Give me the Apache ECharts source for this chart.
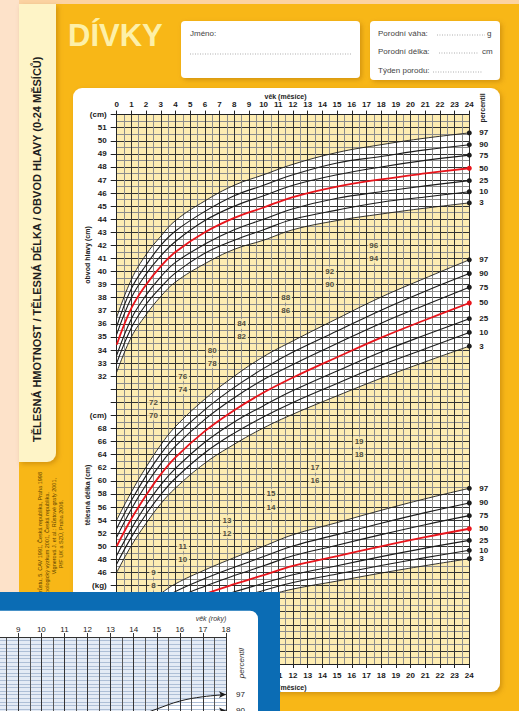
<!DOCTYPE html>
<html><head><meta charset="utf-8">
<script src="https://cdn.jsdelivr.net/npm/echarts@6/dist/echarts.min.js"></script>
<style>html,body{margin:0;padding:0;background:#f8b717;}#c{width:519px;height:711px;}</style>
</head><body><div id="c"></div>
<script>
// ---------- DATA ----------
const ages = [0, 1, 2, 3, 4, 6, 8, 10, 12, 15, 18, 21, 24];           // months
const percentileNames = ['97', '90', '75', '50', '25', '10', '3'];

// head circumference (cm)
const head97 = [36.5, 39.4, 41.3, 42.7, 43.9, 45.4, 46.6, 47.4, 48.2, 49.1, 49.7, 50.2, 50.6];
const head90 = [35.8, 38.7, 40.5, 42.0, 43.1, 44.6, 45.8, 46.6, 47.4, 48.3, 48.8, 49.3, 49.7];
const head75 = [35.2, 38.0, 39.8, 41.2, 42.3, 43.9, 45.0, 45.8, 46.6, 47.4, 48.0, 48.5, 48.9];
const head50 = [34.4, 37.2, 39.0, 40.4, 41.5, 43.0, 44.1, 44.9, 45.7, 46.5, 47.05, 47.5, 47.9];
const head25 = [33.6, 36.4, 38.2, 39.6, 40.7, 42.1, 43.2, 44.0, 44.8, 45.6, 46.1, 46.55, 46.95];
const head10 = [33.0, 35.7, 37.5, 38.8, 39.9, 41.4, 42.4, 43.2, 44.0, 44.7, 45.3, 45.7, 46.1];
const head3  = [32.3, 35.0, 36.7, 38.1, 39.2, 40.6, 41.7, 42.4, 43.2, 43.9, 44.4, 44.85, 45.25];

// body length (cm)
const length97 = [54.0, 58.3, 62.1, 65.5, 68.3, 72.5, 76.0, 79.0, 81.4, 84.8, 88.1, 91.0, 93.8];
const length90 = [52.7, 57.0, 60.8, 64.1, 66.8, 70.9, 74.3, 77.2, 79.7, 82.9, 86.1, 89.0, 91.7];
const length75 = [51.4, 55.7, 59.4, 62.6, 65.3, 69.4, 72.7, 75.5, 77.8, 81.0, 84.1, 86.9, 89.6];
const length50 = [50.0, 54.2, 57.8, 61.0, 63.6, 67.6, 70.8, 73.5, 75.8, 78.9, 81.9, 84.6, 87.2];
const length25 = [48.6, 52.7, 56.3, 59.4, 61.9, 65.9, 69.0, 71.5, 73.8, 76.8, 79.7, 82.3, 84.8];
const length10 = [47.3, 51.4, 54.9, 57.9, 60.4, 64.3, 67.3, 69.8, 72.0, 74.9, 77.7, 80.2, 82.7];
const length3  = [46.0, 50.1, 53.5, 56.5, 58.9, 62.7, 65.6, 68.1, 70.2, 73.0, 75.7, 78.2, 80.6];

// body weight (kg)
const weight97 = [4.13, 5.38, 6.50, 7.38, 8.13, 9.19, 10.13, 11.00, 11.88, 12.81, 13.75, 14.63, 15.43];
const weight90 = [3.83, 4.99, 6.03, 6.84, 7.54, 8.53, 9.40, 10.21, 11.02, 11.89, 12.76, 13.57, 14.31];
const weight75 = [3.57, 4.65, 5.62, 6.38, 7.03, 7.95, 8.76, 9.51, 10.27, 11.08, 11.89, 12.65, 13.34];
const weight50 = [3.30, 4.30, 5.20, 5.90, 6.50, 7.35, 8.10, 8.80, 9.50, 10.25, 11.00, 11.70, 12.34];
const weight25 = [3.06, 3.99, 4.83, 5.48, 6.03, 6.82, 7.52, 8.17, 8.82, 9.51, 10.21, 10.86, 11.45];
const weight10 = [2.86, 3.72, 4.50, 5.11, 5.63, 6.37, 7.02, 7.62, 8.23, 8.88, 9.53, 10.13, 10.69];
const weight3  = [2.69, 3.50, 4.23, 4.80, 5.29, 5.98, 6.59, 7.16, 7.73, 8.34, 8.95, 9.52, 10.05];

// in-grid scale marks
const lengthMarks = [70, 72, 74, 76, 78, 80, 82, 84, 86, 88, 90, 92, 94, 96];
const weightMarks = [8, 9, 10, 11, 12, 13, 14, 15, 16, 17, 18, 19];

// overlapping 2-18 year sheet (height, cm)
const yearAges = [14, 15, 16, 17, 18];
const height97 = [174.6, 177.0, 179.2, 180.4, 181.0];
const height90 = [170.3, 172.6, 174.6, 175.8, 176.5];

// ---------- LAYOUT ----------
const FONT = '"Liberation Sans", Arial, sans-serif';
const lengthMarkAges = [2.5, 4.5, 6.5, 8.5, 11.5, 14.5, 17.5];
const weightMarkAges = [2.5, 4.5, 7.5, 10.5, 13.5, 16.5];
const YEL = '#fdecb2';
const SM = 0.4;

const chart = echarts.init(document.getElementById('c'), null, {renderer: 'svg'});

function pts(d) { return ages.map((a, i) => [a, d[i]]); }
function fill(d, yIdx, color, z) {
  return {type: 'line', xAxisIndex: 0, yAxisIndex: yIdx, data: pts(d), smooth: SM,
    showSymbol: false, symbol: 'none', lineStyle: {width: 0, opacity: 0},
    areaStyle: {color: color, opacity: 1, origin: 'start'}, z: z, silent: true};
}
function curve(d, yIdx, name) {
  const red = name === '50';
  const color = red ? '#e8141b' : '#1c1c1c';
  const last = ages.length - 1;
  return {type: 'line', xAxisIndex: 0, yAxisIndex: yIdx, data: pts(d), smooth: SM,
    symbol: 'circle', showSymbol: true, showAllSymbol: true,
    symbolSize: (v, p) => (p.dataIndex === last ? 5 : 0),
    itemStyle: {color: color},
    lineStyle: {color: color, width: red ? 1.8 : ((name === '97' || name === '3') ? 0.9 : 1.1)},
    endLabel: {show: true, formatter: name, distance: 10, color: '#1a1a1a', fontSize: 8,
      fontWeight: 'bold', fontFamily: FONT},
    z: 9, silent: true};
}

const headSets = [head97, head90, head75, head50, head25, head10, head3];
const lengthSets = [length97, length90, length75, length50, length25, length10, length3];
const weightSets = [weight97, weight90, weight75, weight50, weight25, weight10, weight3];

const series = [
  fill(head97, 0, '#ffffff', 2), fill(head3, 0, YEL, 3),
  fill(length97, 1, '#ffffff', 4), fill(length3, 1, YEL, 5),
  fill(weight97, 2, '#ffffff', 6), fill(weight3, 2, YEL, 7)
];
percentileNames.forEach((n, i) => {
  series.push(curve(headSets[i], 0, n));
  series.push(curve(lengthSets[i], 1, n));
  series.push(curve(weightSets[i], 2, n));
});
const markLabel = {show: true, position: 'inside', formatter: p => String(p.value[1]),
  fontSize: 8, fontWeight: 'bold', fontFamily: FONT, color: '#1a1a1a',
  backgroundColor: YEL, padding: [1, 2]};
series.push({type: 'scatter', xAxisIndex: 0, yAxisIndex: 1, symbolSize: 1,
  itemStyle: {color: 'rgba(0,0,0,0)'}, z: 10, silent: true,
  data: lengthMarks.map((v, i) => [lengthMarkAges[Math.floor(i / 2)], v]), label: markLabel});
series.push({type: 'scatter', xAxisIndex: 0, yAxisIndex: 2, symbolSize: 1,
  itemStyle: {color: 'rgba(0,0,0,0)'}, z: 10, silent: true,
  data: weightMarks.map((v, i) => [weightMarkAges[Math.floor(i / 2)], v]), label: markLabel});

// overlay sheet series
series.push({type: 'line', xAxisIndex: 2, yAxisIndex: 3, data: yearAges.map((a, i) => [a, height97[i]]),
  smooth: SM, showSymbol: false, symbol: 'none', lineStyle: {width: 0, opacity: 0},
  areaStyle: {color: '#ffffff', opacity: 1, origin: 'start'}, z: 23, silent: true});
[[height97, '97'], [height90, '90']].forEach(([d, n]) => {
  series.push({type: 'line', xAxisIndex: 2, yAxisIndex: 3, data: yearAges.map((a, i) => [a, d[i]]),
    smooth: SM, symbol: 'arrow', showSymbol: true, showAllSymbol: true, symbolRotate: -90,
    symbolSize: (v, p) => (p.dataIndex === yearAges.length - 1 ? [5, 7] : 0),
    itemStyle: {color: '#1c1c1c'}, lineStyle: {color: '#1c1c1c', width: 1},
    endLabel: {show: true, formatter: n, distance: 10, color: '#222', fontSize: 8, fontFamily: FONT},
    z: 25, silent: true});
});

const axLbl = {fontSize: 8, fontWeight: 'bold', fontFamily: FONT, color: '#1a1a1a'};
const dark = {color: '#333333', width: 1};
const grey = {color: '#8c8c8c', width: 1};

function txt(x, y, text, o) {
  o = o || {};
  return {type: 'text', x: x, y: y, z: o.z != null ? o.z : 5, rotation: o.rot || 0, silent: true,
    style: {text: text, fill: o.color || '#222', fontSize: o.size || 8, fontWeight: o.weight || 'normal',
      fontStyle: o.fs || 'normal', fontFamily: FONT,
      align: o.align || 'left', verticalAlign: o.va || 'middle',
      textAlign: o.align || 'left', textVerticalAlign: o.va || 'middle'}};
}
function rect(x, y, w, h, fillc, z, r, shadow) {
  const e = {type: 'rect', z: z, silent: true, shape: {x: x, y: y, width: w, height: h, r: r || 0},
    style: {fill: fillc}};
  if (shadow) Object.assign(e.style, {shadowBlur: 5, shadowOffsetX: 2, shadowOffsetY: 2, shadowColor: 'rgba(140,80,0,0.35)'});
  return e;
}
function dots(x1, x2, y, z) {
  return {type: 'line', z: z || 5, silent: true, shape: {x1: x1, y1: y, x2: x2, y2: y},
    style: {stroke: '#9a9a9a', lineWidth: 0.9, lineDash: [0.9, 1.6]}};
}

const graphics = [
  rect(0, 0, 519, 4, '#fcd3a2', 0),
  rect(0, 0, 19, 711, '#fde2c9', 0),
  rect(19, 4, 37, 458, '#fef4c7', 0, [0, 0, 9, 0], true),
  rect(73, 88, 427, 604, '#ffffff', 0, 9, true),
  rect(181, 21, 179, 57, '#ffffff', 0, 4, true),
  rect(370, 21, 130, 59, '#ffffff', 0, 4, true),
  txt(68, 35, 'DÍVKY', {size: 31, weight: 'bold', color: '#fdf0a8'}),
  txt(37, 442, 'TĚLESNÁ HMOTNOST / TĚLESNÁ DÉLKA / OBVOD HLAVY (0-24 MĚSÍCŮ)', {rot: Math.PI / 2, size: 11, weight: 'bold', color: '#1e1e1e'}),
  txt(190, 33, 'Jméno:', {size: 8, color: '#444'}),
  dots(190, 352, 54),
  txt(378, 33, 'Porodní váha:', {size: 8, color: '#444'}),
  dots(437, 485, 35), txt(487, 33, 'g', {size: 8, color: '#444'}),
  txt(378, 51, 'Porodní délka:', {size: 8, color: '#444'}),
  dots(439, 479, 53), txt(482, 51, 'cm', {size: 8, color: '#444'}),
  txt(378, 70, 'Týden porodu:', {size: 8, color: '#444'}),
  dots(433, 482, 72),
  txt(285.5, 96, 'věk (měsíce)', {size: 7, weight: 'bold', align: 'center'}),
  txt(285.5, 687, 'věk (měsíce)', {size: 7, weight: 'bold', align: 'center'}),
  txt(482, 108, 'percentil', {rot: Math.PI / 2, size: 7, weight: 'bold', align: 'center'}),
  txt(87, 255, 'obvod hlavy (cm)', {rot: Math.PI / 2, size: 7, weight: 'bold', align: 'center'}),
  txt(87, 495, 'tělesná délka (cm)', {rot: Math.PI / 2, size: 7, weight: 'bold', align: 'center'}),
  txt(40, 472, 'Vignerová J., Bláha P.: Sledování růstu, 5. CAV 1991, Česká republika, Praha 1998', {rot: Math.PI / 2, size: 5.5, color: '#5e4300', align: 'right'}),
  txt(47, 492, '6. celostátní antropologický výzkum 2001, Česká republika.', {rot: Math.PI / 2, size: 5.5, color: '#5e4300', align: 'right'}),
  txt(54, 478, 'Vignerová J. et al.: Růstové grafy 2001,', {rot: Math.PI / 2, size: 5.5, color: '#5e4300', align: 'right'}),
  txt(61, 500, 'PřF UK a SZÚ, Praha 2006.', {rot: Math.PI / 2, size: 5.5, color: '#5e4300', align: 'right'}),
  // overlapping sheet
  rect(0, 592, 280, 119, '#0b6cb4', 20),
  rect(0, 610.7, 258, 110, '#ffffff', 21, [0, 8, 0, 0]),
  txt(211, 618.5, 'věk (roky)', {z: 26, size: 7, fs: 'italic', color: '#333', align: 'center'}),
  txt(241, 663, 'percentil', {z: 26, rot: Math.PI / 2, size: 8, fs: 'italic', color: '#333', align: 'center'})
];

const option = {
  backgroundColor: '#f8b717',
  animation: false,
  grid: [
    {left: 116.7, top: 114.6, width: 352.6, height: 549.4, show: true, backgroundColor: YEL, borderWidth: 0, z: 1,
      outerBoundsMode: 'none', containLabel: false},
    {left: -4.8, top: 637, width: 230.8, height: 349.2, show: true, backgroundColor: '#e4ebf5', borderWidth: 0, z: 22,
      outerBoundsMode: 'none', containLabel: false}
  ],
  xAxis: [
    {type: 'value', gridIndex: 0, position: 'top', min: 0, max: 24, interval: 1, z: 8,
      axisLine: {onZero: false, lineStyle: {color: '#222'}},
      axisTick: {show: true, inside: false, length: 4, lineStyle: {color: '#222'}},
      axisLabel: Object.assign({margin: 6}, axLbl),
      splitLine: {show: true, lineStyle: dark}, minorTick: {show: false, splitNumber: 2},
      minorSplitLine: {show: true, lineStyle: grey}},
    {type: 'value', gridIndex: 0, position: 'bottom', min: 0, max: 24, interval: 1, z: 8,
      axisLine: {onZero: false, lineStyle: {color: '#222'}},
      axisTick: {show: true, length: 4, lineStyle: {color: '#222'}},
      axisLabel: Object.assign({margin: 7}, axLbl), splitLine: {show: false}},
    {type: 'value', gridIndex: 1, position: 'top', min: 8, max: 18, interval: 1, z: 24,
      axisLine: {onZero: false, lineStyle: {color: '#333'}},
      axisTick: {show: true, length: 4, lineStyle: {color: '#333'}},
      axisLabel: {margin: 4, fontSize: 8, fontFamily: FONT, color: '#222', formatter: v => (v >= 9 ? String(v) : '')},
      splitLine: {show: true, lineStyle: {color: '#333', width: 1}}, minorTick: {show: false, splitNumber: 2},
      minorSplitLine: {show: true, lineStyle: {color: '#555', width: 1}}}
  ],
  yAxis: [
    {type: 'value', gridIndex: 0, position: 'left', offset: 0, min: 10, max: 52, interval: 1, z: 8,
      axisLine: {show: true, onZero: false, lineStyle: {color: '#222'}},
      axisTick: {show: true, length: 6, lineStyle: {color: '#222'}},
      axisLabel: Object.assign({margin: 10, formatter: v => (v === 52 ? '(cm)' : (v >= 32 && v <= 51 ? String(v) : ''))}, axLbl),
      splitLine: {show: true, lineStyle: dark}, minorTick: {show: false, splitNumber: 2},
      minorSplitLine: {show: true, lineStyle: grey}},
    {type: 'value', gridIndex: 0, position: 'left', offset: 0, min: 32, max: 116, interval: 2, z: 8,
      axisLine: {show: false, onZero: false}, axisTick: {show: false}, splitLine: {show: false},
      axisLabel: Object.assign({margin: 10, formatter: v => (v === 70 ? '(cm)' : (v >= 46 && v <= 68 ? String(v) : ''))}, axLbl)},
    {type: 'value', gridIndex: 0, position: 'left', offset: 0, min: 2, max: 44, interval: 1, z: 8,
      axisLine: {show: false, onZero: false}, axisTick: {show: false}, splitLine: {show: false},
      axisLabel: Object.assign({margin: 10, formatter: v => (v === 8 ? '(kg)' : (v >= 2 && v <= 7 ? String(v) : ''))}, axLbl)},
    {type: 'value', gridIndex: 1, position: 'left', min: 100, max: 197, interval: 1, z: 24,
      axisLine: {show: false, onZero: false}, axisTick: {show: false}, axisLabel: {show: false},
      splitLine: {show: true, lineStyle: {color: '#aebfd6', width: 1.2}}}
  ],
  series: series,
  graphic: {elements: graphics}
};
chart.setOption(option);
</script></body></html>
